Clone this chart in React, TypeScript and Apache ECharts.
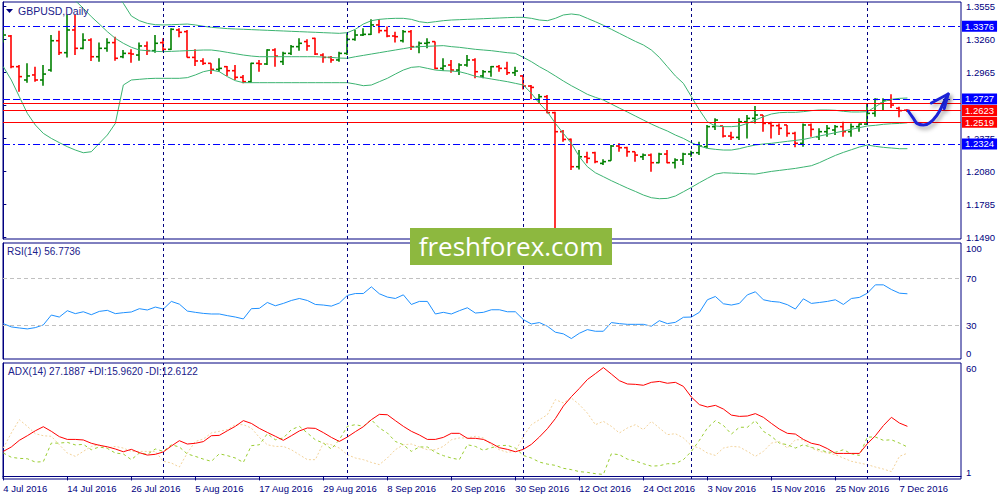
import React, { useEffect, useRef } from 'react';
import * as echarts from 'echarts';

const tickIndex = [0, 8, 16, 24, 32, 40, 48, 56, 64, 72, 80, 88, 96, 104, 112];
const tickLabels = ['4 Jul 2016', '14 Jul 2016', '26 Jul 2016', '5 Aug 2016', '17 Aug 2016', '29 Aug 2016', '8 Sep 2016', '20 Sep 2016', '30 Sep 2016', '12 Oct 2016', '24 Oct 2016', '3 Nov 2016', '15 Nov 2016', '25 Nov 2016', '7 Dec 2016'];
const monthStarts = [20, 43, 65, 86, 108];
const priceTicks = [1.149, 1.1785, 1.208, 1.2375, 1.267, 1.2965, 1.326, 1.3555];
const priceLabels = [1.149, 1.1785, 1.208, 1.2375, 1.2965, 1.326, 1.3555];

const open = [1.3247,1.3289,1.3015,1.2896,1.2941,1.2896,1.2985,1.3247,1.3140,1.3343,
1.3179,1.3253,1.3104,1.3179,1.3230,1.3104,1.3134,1.3119,1.3200,1.3158,
1.3230,1.3170,1.3343,1.3328,1.3098,1.3066,1.3045,1.2991,1.3015,1.2979,
1.2920,1.2881,1.3045,1.3039,1.3164,1.3060,1.3134,1.3194,1.3239,1.3268,
1.3119,1.3098,1.3075,1.3134,1.3259,1.3298,1.3304,1.3388,1.3337,1.3289,
1.3247,1.3328,1.3194,1.3224,1.3239,1.3000,1.3030,1.2985,1.3030,1.3075,
1.2932,1.2970,1.3015,1.3000,1.2961,1.2932,1.2842,1.2723,1.2747,1.2604,
1.2434,1.2365,1.2121,1.2210,1.2246,1.2151,1.2175,1.2306,1.2291,1.2255,
1.2210,1.2225,1.2157,1.2234,1.2157,1.2181,1.2234,1.2246,1.2300,1.2479,
1.2485,1.2395,1.2383,1.2523,1.2553,1.2583,1.2508,1.2488,1.2494,1.2419,
1.2330,1.2494,1.2389,1.2434,1.2449,1.2479,1.2434,1.2479,1.2502,1.2598,
1.2687,1.2717,1.2643,1.2626];
const high = [1.3343,1.3298,1.3030,1.3045,1.3015,1.3030,1.3298,1.3337,1.3477,1.3477,
1.3313,1.3268,1.3230,1.3268,1.3283,1.3164,1.3170,1.3230,1.3239,1.3298,
1.3268,1.3358,1.3358,1.3343,1.3170,1.3090,1.3045,1.3090,1.3021,1.3030,
1.2941,1.3051,1.3075,1.3170,1.3179,1.3149,1.3209,1.3268,1.3259,1.3274,
1.3134,1.3110,1.3149,1.3313,1.3343,1.3358,1.3438,1.3438,1.3373,1.3328,
1.3343,1.3343,1.3239,1.3268,1.3239,1.3090,1.3075,1.3045,1.3119,1.3090,
1.2985,1.3021,1.3030,1.3060,1.3015,1.2932,1.2851,1.2771,1.2762,1.2613,
1.2449,1.2374,1.2270,1.2255,1.2255,1.2187,1.2315,1.2330,1.2300,1.2255,
1.2240,1.2240,1.2246,1.2270,1.2196,1.2246,1.2264,1.2345,1.2494,1.2553,
1.2485,1.2434,1.2553,1.2583,1.2663,1.2583,1.2523,1.2508,1.2494,1.2434,
1.2508,1.2508,1.2464,1.2494,1.2494,1.2523,1.2508,1.2508,1.2687,1.2732,
1.2732,1.2768,1.2657,1.2634];
const low = [1.3230,1.3000,1.2792,1.2872,1.2881,1.2845,1.2970,1.3119,1.3098,1.3119,
1.3170,1.3066,1.3060,1.3149,1.3069,1.3090,1.3051,1.3069,1.3119,1.3140,
1.3149,1.3164,1.3277,1.3098,1.3021,1.3030,1.2949,1.2970,1.2932,1.2896,
1.2866,1.2872,1.2970,1.3030,1.3015,1.3030,1.3119,1.3158,1.3158,1.3119,
1.3051,1.3051,1.3060,1.3119,1.3247,1.3289,1.3298,1.3313,1.3277,1.3230,
1.3230,1.3164,1.3134,1.3179,1.2991,1.2979,1.2961,1.2941,1.3015,1.2911,
1.2911,1.2926,1.2970,1.2941,1.2932,1.2812,1.2723,1.2687,1.2598,1.1491,
1.2345,1.2091,1.2097,1.2151,1.2151,1.2136,1.2175,1.2255,1.2210,1.2166,
1.2181,1.2076,1.2151,1.2151,1.2106,1.2136,1.2210,1.2225,1.2285,1.2449,
1.2383,1.2359,1.2359,1.2374,1.2508,1.2434,1.2374,1.2404,1.2389,1.2294,
1.2300,1.2389,1.2359,1.2389,1.2404,1.2389,1.2389,1.2434,1.2494,1.2568,
1.2628,1.2645,1.2562,1.2610];
const close = [1.3298,1.3015,1.2926,1.2932,1.2896,1.2949,1.3247,1.3140,1.3343,1.3179,
1.3253,1.3104,1.3179,1.3230,1.3090,1.3134,1.3128,1.3200,1.3158,1.3224,
1.3170,1.3349,1.3322,1.3098,1.3066,1.3045,1.2991,1.3000,1.2979,1.2920,
1.2881,1.3045,1.3039,1.3164,1.3110,1.3134,1.3194,1.3224,1.3200,1.3128,
1.3098,1.3075,1.3134,1.3259,1.3298,1.3304,1.3388,1.3337,1.3289,1.3283,
1.3328,1.3194,1.3224,1.3230,1.3000,1.3021,1.2985,1.3030,1.3075,1.2970,
1.2970,1.3015,1.3000,1.2961,1.2976,1.2842,1.2830,1.2747,1.2604,1.2434,
1.2365,1.2121,1.2210,1.2196,1.2166,1.2166,1.2306,1.2291,1.2255,1.2225,
1.2225,1.2157,1.2234,1.2157,1.2181,1.2234,1.2246,1.2306,1.2479,1.2538,
1.2395,1.2383,1.2523,1.2553,1.2583,1.2508,1.2488,1.2464,1.2419,1.2330,
1.2494,1.2455,1.2434,1.2464,1.2479,1.2434,1.2479,1.2502,1.2598,1.2723,
1.2717,1.2672,1.2622,1.2623];

const bbUpper = [1.4386,1.4326,1.4267,1.4207,1.4147,1.4088,1.4043,1.3998,1.3954,1.3909,
1.3864,1.3820,1.3775,1.3730,1.3671,1.3581,1.3468,1.3426,1.3402,1.3390,
1.3388,1.3390,1.3393,1.3396,1.3388,1.3376,1.3367,1.3361,1.3355,1.3352,
1.3349,1.3346,1.3343,1.3340,1.3337,1.3334,1.3331,1.3328,1.3325,1.3322,
1.3319,1.3316,1.3313,1.3319,1.3349,1.3396,1.3426,1.3438,1.3444,1.3447,
1.3447,1.3438,1.3417,1.3408,1.3417,1.3426,1.3432,1.3435,1.3438,1.3441,
1.3444,1.3447,1.3450,1.3453,1.3456,1.3456,1.3447,1.3432,1.3426,1.3447,
1.3477,1.3486,1.3477,1.3447,1.3417,1.3385,1.3349,1.3313,1.3277,1.3241,
1.3209,1.3164,1.3098,1.3015,1.2932,1.2866,1.2747,1.2628,1.2523,1.2485,
1.2479,1.2479,1.2485,1.2508,1.2538,1.2568,1.2592,1.2604,1.2607,1.2607,
1.2613,1.2622,1.2628,1.2628,1.2625,1.2616,1.2610,1.2610,1.2613,1.2657,
1.2702,1.2723,1.2732,1.2735];
const bbMiddle = [1.4058,1.3998,1.3939,1.3879,1.3820,1.3775,1.3730,1.3686,1.3641,1.3605,
1.3537,1.3462,1.3396,1.3328,1.3268,1.3224,1.3188,1.3164,1.3158,1.3152,
1.3149,1.3152,1.3155,1.3158,1.3161,1.3164,1.3164,1.3155,1.3143,1.3131,
1.3119,1.3110,1.3104,1.3104,1.3104,1.3104,1.3104,1.3104,1.3104,1.3104,
1.3101,1.3098,1.3092,1.3090,1.3104,1.3116,1.3128,1.3140,1.3152,1.3164,
1.3176,1.3188,1.3194,1.3197,1.3200,1.3203,1.3194,1.3188,1.3179,1.3170,
1.3164,1.3158,1.3149,1.3140,1.3134,1.3098,1.3060,1.3015,1.2976,1.2932,
1.2887,1.2845,1.2807,1.2768,1.2741,1.2717,1.2681,1.2645,1.2610,1.2574,
1.2538,1.2502,1.2470,1.2440,1.2404,1.2374,1.2336,1.2306,1.2285,1.2276,
1.2270,1.2270,1.2282,1.2300,1.2315,1.2324,1.2330,1.2339,1.2348,1.2356,
1.2365,1.2380,1.2395,1.2410,1.2425,1.2440,1.2455,1.2470,1.2485,1.2491,
1.2500,1.2505,1.2508,1.2514];
const bbLower = [1.3015,1.2896,1.2747,1.2598,1.2494,1.2419,1.2374,1.2336,1.2300,1.2270,
1.2246,1.2255,1.2330,1.2404,1.2508,1.2851,1.2896,1.2902,1.2908,1.2911,
1.2911,1.2911,1.2911,1.2917,1.2941,1.2970,1.2985,1.2970,1.2926,1.2890,
1.2872,1.2872,1.2872,1.2872,1.2872,1.2872,1.2872,1.2872,1.2872,1.2872,
1.2872,1.2872,1.2872,1.2872,1.2860,1.2845,1.2851,1.2881,1.2911,1.2949,
1.2985,1.3009,1.3015,1.3000,1.2985,1.2979,1.2976,1.2970,1.2952,1.2929,
1.2917,1.2905,1.2893,1.2881,1.2866,1.2851,1.2777,1.2687,1.2613,1.2508,
1.2419,1.2330,1.2210,1.2121,1.2067,1.2032,1.1996,1.1963,1.1930,1.1900,
1.1868,1.1844,1.1835,1.1838,1.1859,1.1897,1.1936,1.1978,1.2017,1.2055,
1.2067,1.2064,1.2061,1.2058,1.2055,1.2067,1.2079,1.2088,1.2097,1.2106,
1.2118,1.2130,1.2157,1.2190,1.2222,1.2249,1.2273,1.2297,1.2315,1.2303,
1.2294,1.2288,1.2282,1.2282];

const rsi = [31.4,28.6,27.7,26.9,28.0,30.3,38.7,37.0,42.4,39.9,
41.5,39.0,41.8,42.7,39.9,40.7,41.3,44.1,43.0,45.5,
43.8,50.3,48.0,42.1,41.0,40.1,39.6,39.6,38.2,37.0,
35.4,44.1,44.4,49.4,46.6,48.6,51.1,52.8,51.1,47.7,
47.2,46.3,48.9,55.4,57.0,57.0,62.7,56.8,54.0,52.8,
55.9,47.7,50.3,50.3,39.6,41.0,39.6,42.4,44.9,40.4,
41.0,43.2,43.2,41.5,41.5,34.8,31.1,32.3,29.2,24.1,
22.7,18.7,23.2,26.3,24.9,24.9,32.3,31.4,30.8,30.8,
30.8,29.2,33.9,31.4,32.5,36.8,37.0,41.0,51.7,54.5,
48.3,47.2,48.6,55.9,58.5,51.7,50.3,49.7,47.5,43.8,
52.5,48.6,49.4,50.3,51.7,47.7,52.8,53.7,57.3,64.4,
64.4,60.4,57.3,56.8];

const adx = [13.6,16.0,19.6,22.1,24.8,27.0,24.5,21.6,20.1,20.1,
19.8,18.0,16.9,16.1,14.9,13.4,14.7,12.9,11.6,12.0,
13.3,16.5,19.4,17.6,18.0,18.9,22.1,22.3,24.8,27.2,
30.3,28.8,26.1,23.9,21.8,19.6,22.1,24.7,26.3,26.1,
23.8,21.2,19.0,21.4,24.3,27.0,30.8,33.7,33.5,30.3,
27.2,24.5,22.5,20.1,20.1,21.2,23.4,23.4,20.7,20.7,
20.1,18.0,15.6,14.7,13.4,14.7,17.4,21.4,25.9,31.4,
38.2,43.3,47.8,52.6,55.8,59.1,55.6,52.0,50.2,50.0,
49.5,51.1,51.6,50.6,51.1,48.9,43.1,39.0,37.7,38.6,
36.6,33.3,32.6,32.8,34.1,32.1,28.8,25.7,23.4,23.0,
20.1,18.0,17.1,15.1,12.5,12.5,12.5,12.5,17.8,22.1,
27.6,32.1,29.0,27.2];
const plusDI = [12.7,10.4,9.8,9.6,7.8,8.0,18.1,18.1,18.5,17.1,
17.4,14.5,16.0,15.2,12.7,12.2,9.1,12.7,12.0,14.9,
13.6,17.2,16.0,12.2,10.9,9.4,8.2,12.3,11.3,10.0,
7.6,16.7,17.2,23.2,19.9,20.9,25.4,27.2,23.6,19.9,
18.1,14.9,19.9,27.2,28.1,27.2,30.8,26.3,23.6,19.0,
17.2,13.6,16.0,16.0,13.1,11.3,10.0,9.1,17.2,16.3,
14.2,15.6,16.7,16.9,15.4,11.4,10.0,7.8,6.7,6.0,
4.4,3.7,2.6,2.2,1.5,1.1,12.3,11.8,9.4,8.4,
6.9,5.6,5.8,6.9,6.9,9.1,13.6,19.6,26.3,30.3,
27.7,23.0,26.7,26.7,30.3,24.5,21.8,18.1,17.2,15.4,
17.2,15.8,14.5,13.2,13.1,14.5,12.3,11.4,21.4,21.4,
19.6,19.9,18.1,16.0];
const minusDI = [15.4,23.6,30.8,27.2,23.2,22.1,21.8,17.2,12.7,10.9,
13.6,16.3,17.2,15.4,16.3,15.4,13.6,13.6,13.6,13.6,
8.2,7.3,5.1,12.7,19.0,20.3,23.6,24.5,25.4,28.1,
28.1,26.3,21.2,17.2,16.3,16.3,14.5,11.8,9.1,9.1,
18.1,17.2,15.4,11.8,10.0,9.1,7.6,6.4,10.0,14.5,
17.2,17.6,16.0,14.5,14.5,16.3,19.9,20.9,20.9,21.8,
20.9,17.2,14.5,13.1,13.6,21.8,28.1,30.8,33.5,41.7,
39.9,42.6,39.0,34.4,28.1,29.9,27.2,23.6,26.3,28.1,
25.4,29.9,26.3,22.7,23.2,20.9,16.7,15.4,12.7,11.4,
15.4,16.3,16.0,13.6,10.9,13.6,18.1,19.0,15.4,19.9,
19.9,15.4,13.6,12.7,11.8,10.0,8.2,7.3,6.4,5.1,
4.0,2.6,10.9,12.6];

// annotations (bar index, price)
const arrowPath = [[113.1, 1.2619], [113.75, 1.2554], [114.25, 1.2506], [115.0, 1.2494], [115.8, 1.2514], [116.7, 1.2583], [117.5, 1.2688], [118.1, 1.2771]];
const arrowHead = [[116.0, 1.2690], [118.1, 1.2771], [117.6, 1.2640]];
const highlightLow = [[88.7, 1.2519], [119.3, 1.2519]];
const highlightHigh = [[108.9, 1.2745], [119.3, 1.2745]];

const NAVY = '#000080';
const UP = '#008000';
const DOWN = '#ff0000';
const BB = '#3CB371';
const FONT = 'Liberation Sans';
const X_MIN = -0.04;
const X_MAX = 119.7;

const pairs = (arr: number[]) => arr.map((v, i) => [i, v]);

function buildOption() {
  const ohlc = open.map((o, i) => [i, o, high[i], low[i], close[i]]);
  const sepLines = monthStarts.map((m) => ({
    xAxis: m,
    lineStyle: { color: NAVY, type: [3, 3], width: 1 },
    label: { show: false },
  }));
  const lvlLabel = (txt: string, bg: string) => ({
    show: true,
    position: 'end',
    distance: 1,
    formatter: txt,
    backgroundColor: bg,
    color: '#ffffff',
    padding: [1, 3, 0, 3],
    lineHeight: 10,
    fontSize: 9.5,
    fontFamily: FONT,
  });
  const levels = [
    { yAxis: 1.3376, lineStyle: { color: '#0000ff', type: [7, 3, 2, 3], width: 1 }, label: lvlLabel('1.3376', '#0000ff') },
    { yAxis: 1.2727, lineStyle: { color: '#0000ff', type: [7, 3], width: 1 }, label: lvlLabel('1.2727', '#0000ff') },
    { yAxis: 1.2687, lineStyle: { color: '#ff0000', type: 'solid', width: 1 }, label: { show: false } },
    { yAxis: 1.2623, lineStyle: { color: '#ff0000', type: 'solid', width: 1 }, label: lvlLabel('1.2623', '#ff0000') },
    { yAxis: 1.2519, lineStyle: { color: '#ff0000', type: 'solid', width: 1 }, label: lvlLabel('1.2519', '#ff0000') },
    { yAxis: 1.2324, lineStyle: { color: '#0000ff', type: [7, 3, 2, 3], width: 1 }, label: lvlLabel('1.2324', '#0000ff') },
  ];
  const axisLabelBase = { color: NAVY, fontSize: 9.5, fontFamily: FONT };
  const grids = [
    { left: 3, right: 39, top: 2, height: 237 },
    { left: 3, right: 39, top: 243, height: 116 },
    { left: 3, right: 39, top: 363, height: 116 },
  ].map((g) => ({ ...g, show: true, borderColor: NAVY, borderWidth: 1, backgroundColor: 'transparent' }));

  const xAxes = [0, 1, 2].map((g) => ({
    type: 'value',
    gridIndex: g,
    min: X_MIN,
    max: X_MAX,
    splitLine: { show: false },
    axisLine: { show: g === 2, lineStyle: { color: NAVY } },
    axisTick: { show: g === 2, customValues: tickIndex, length: 4, lineStyle: { color: NAVY } },
    axisLabel: {
      show: g === 2,
      customValues: tickIndex,
      formatter: (v: number) => {
        const k = tickIndex.indexOf(Math.round(v));
        return k >= 0 ? tickLabels[k] : '';
      },
      align: 'left',
      margin: 4,
      ...axisLabelBase,
    },
  }));

  const yAxes = [
    {
      type: 'value', gridIndex: 0, position: 'right', min: 1.1475, max: 1.3593,
      splitLine: { show: false },
      axisLine: { show: true, lineStyle: { color: NAVY } },
      axisTick: { show: true, customValues: priceTicks, length: 3, lineStyle: { color: NAVY } },
      axisLabel: { customValues: priceLabels, formatter: (v: number) => v.toFixed(4), margin: 5, ...axisLabelBase },
    },
    {
      type: 'value', gridIndex: 1, position: 'right', min: 1.3, max: 100,
      splitLine: { show: false },
      axisLine: { show: true, lineStyle: { color: NAVY } },
      axisTick: { show: true, customValues: [30, 70], length: 3, lineStyle: { color: NAVY } },
      axisLabel: {
        customValues: [6.4, 30, 70, 94.9],
        formatter: (v: number) => (v > 90 ? '100' : v < 10 ? '0' : String(Math.round(v))),
        margin: 5, ...axisLabelBase,
      },
    },
    {
      type: 'value', gridIndex: 2, position: 'right', min: -1.4, max: 61.6,
      splitLine: { show: false },
      axisLine: { show: true, lineStyle: { color: NAVY } },
      axisTick: { show: false },
      axisLabel: {
        customValues: [2.4, 58.4],
        formatter: (v: number) => (v > 30 ? '60' : '1'),
        margin: 5, ...axisLabelBase,
      },
    },
  ];

  const lineBase = { type: 'line', symbol: 'none', silent: true, animation: false, clip: true };

  const series: any[] = [
    {
      ...lineBase, name: 'hlLow', xAxisIndex: 0, yAxisIndex: 0, data: highlightLow, z: 1,
      lineStyle: { color: '#ffff00', width: 3.5, shadowColor: 'rgba(0,0,0,0.55)', shadowBlur: 6, shadowOffsetY: 4 },
    },
    {
      ...lineBase, name: 'hlHigh', xAxisIndex: 0, yAxisIndex: 0, data: highlightHigh, z: 1,
      lineStyle: { color: '#ffff00', width: 3.5, shadowColor: 'rgba(0,0,0,0.45)', shadowBlur: 6, shadowOffsetY: 3 },
    },
    {
      ...lineBase, name: 'bbUpper', xAxisIndex: 0, yAxisIndex: 0, data: pairs(bbUpper),
      lineStyle: { color: BB, width: 1 },
    },
    {
      ...lineBase, name: 'bbMiddle', xAxisIndex: 0, yAxisIndex: 0, data: pairs(bbMiddle),
      lineStyle: { color: BB, width: 1 },
      markLine: { silent: true, symbol: ['none', 'none'], animation: false, precision: 4, data: [...levels, ...sepLines] },
    },
    {
      ...lineBase, name: 'bbLower', xAxisIndex: 0, yAxisIndex: 0, data: pairs(bbLower),
      lineStyle: { color: BB, width: 1 },
    },
    {
      type: 'custom', name: 'bars', xAxisIndex: 0, yAxisIndex: 0, data: ohlc, silent: true, animation: false, clip: true, z: 3,
      dimensions: ['i', 'open', 'high', 'low', 'close'],
      encode: { x: 0, y: [1, 2, 3, 4] },
      renderItem: (params: any, api: any) => {
        const x = api.value(0);
        const o = api.value(1), h = api.value(2), l = api.value(3), c = api.value(4);
        const pt = api.coord([x, h]);
        const pb = api.coord([x, l]);
        const po = api.coord([x, o]);
        const pc = api.coord([x, c]);
        const col = c >= o ? UP : DOWN;
        const px = Math.round(pt[0]);
        const st = { stroke: col, lineWidth: 1.6 };
        return {
          type: 'group',
          children: [
            { type: 'line', shape: { x1: px, y1: pt[1], x2: px, y2: pb[1] }, style: st },
            { type: 'line', shape: { x1: px - 3, y1: po[1], x2: px, y2: po[1] }, style: st },
            { type: 'line', shape: { x1: px, y1: pc[1], x2: px + 3, y2: pc[1] }, style: st },
          ],
        };
      },
    },
    {
      ...lineBase, name: 'arrow', xAxisIndex: 0, yAxisIndex: 0, data: arrowPath, smooth: 0.5, z: 5,
      lineStyle: { color: '#1a22d6', width: 3, cap: 'round', join: 'round', shadowColor: 'rgba(0,0,0,0.35)', shadowBlur: 4, shadowOffsetX: 2, shadowOffsetY: 3 },
    },
    {
      ...lineBase, name: 'arrowHead', xAxisIndex: 0, yAxisIndex: 0, data: arrowHead, z: 5,
      lineStyle: { color: '#1a22d6', width: 3, cap: 'round', join: 'round', shadowColor: 'rgba(0,0,0,0.35)', shadowBlur: 4, shadowOffsetX: 2, shadowOffsetY: 3 },
    },
    {
      ...lineBase, name: 'RSI', xAxisIndex: 1, yAxisIndex: 1, data: pairs(rsi),
      lineStyle: { color: '#1E90FF', width: 1 },
      markLine: {
        silent: true, symbol: ['none', 'none'], animation: false,
        data: [
          { yAxis: 70, lineStyle: { color: '#c0c0c0', type: [4, 3], width: 1 }, label: { show: false } },
          { yAxis: 30, lineStyle: { color: '#c0c0c0', type: [4, 3], width: 1 }, label: { show: false } },
          ...sepLines,
        ],
      },
    },
    {
      ...lineBase, name: '-DI', xAxisIndex: 2, yAxisIndex: 2, data: pairs(minusDI),
      lineStyle: { color: '#f2d29a', width: 1, type: [2, 2] },
    },
    {
      ...lineBase, name: '+DI', xAxisIndex: 2, yAxisIndex: 2, data: pairs(plusDI),
      lineStyle: { color: '#9ACD32', width: 1, type: [3, 3] },
    },
    {
      ...lineBase, name: 'ADX', xAxisIndex: 2, yAxisIndex: 2, data: pairs(adx),
      lineStyle: { color: '#ff0000', width: 1 },
      markLine: { silent: true, symbol: ['none', 'none'], animation: false, data: sepLines },
    },
  ];

  const graphic = [
    { type: 'polygon', z: 100, shape: { points: [[6, 9], [13, 9], [9.5, 13]] }, style: { fill: NAVY } },
    { type: 'text', z: 100, style: { text: 'GBPUSD,Daily', x: 18, y: 11, textVerticalAlign: 'middle', fill: '#20208a', font: `10.5px "${FONT}"` } },
    { type: 'text', z: 100, style: { text: 'RSI(14) 56.7736', x: 7, y: 251, textVerticalAlign: 'middle', fill: '#20208a', font: `10px "${FONT}"` } },
    { type: 'text', z: 100, style: { text: 'ADX(14) 27.1887 +DI:15.9620 -DI:12.6122', x: 8, y: 371, textVerticalAlign: 'middle', fill: '#20208a', font: `10px "${FONT}"` } },
    { type: 'rect', z: 100, shape: { x: 410, y: 228, width: 202, height: 37 }, style: { fill: '#8db83f' } },
    { type: 'text', z: 101, style: { text: 'freshforex.com', x: 511, y: 246, textAlign: 'center', textVerticalAlign: 'middle', fill: '#ffffff', font: '26px "Open Sans"' } },
  ];

  return {
    animation: false,
    backgroundColor: '#ffffff',
    grid: grids,
    xAxis: xAxes,
    yAxis: yAxes,
    series,
    graphic,
  };
}

export default function App() {
  const ref = useRef<HTMLDivElement>(null);
  useEffect(() => {
    if (!ref.current) return;
    const chart = echarts.init(ref.current, null, { renderer: 'svg' });
    chart.setOption(buildOption() as any);
    return () => chart.dispose();
  }, []);
  return (
    <div
      ref={ref}
      style={{ position: 'fixed', left: 0, top: 0, width: 1000, height: 500, background: '#ffffff' }}
    />
  );
}
